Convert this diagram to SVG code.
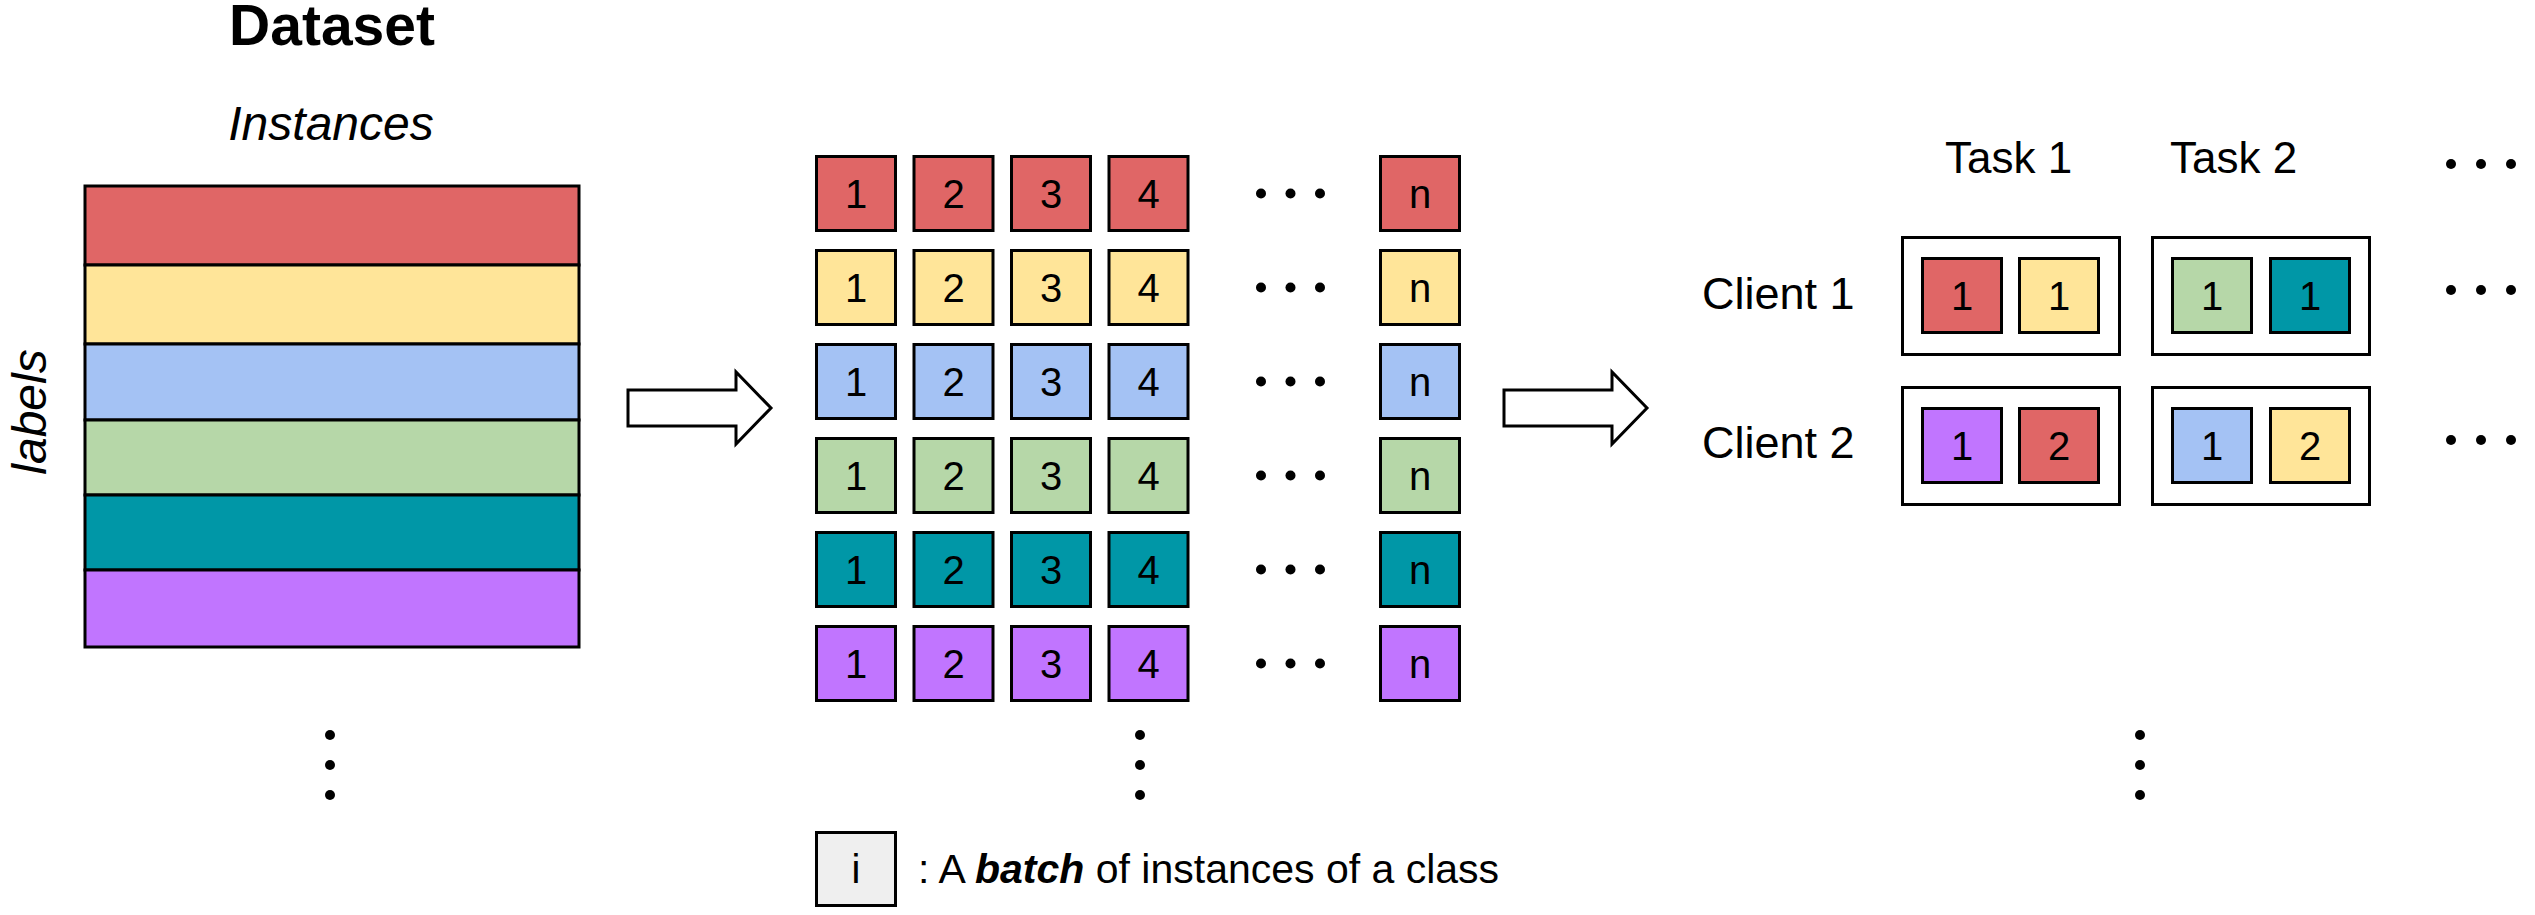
<svg xmlns="http://www.w3.org/2000/svg" width="2535" height="915" viewBox="0 0 2535 915">
<style>
.bx{stroke:#000;stroke-width:3;stroke-linejoin:miter}
.r{fill:#E06666}.y{fill:#FFE599}.b{fill:#A4C2F4}.g{fill:#B6D7A8}.t{fill:#0097A7}.p{fill:#C175FF}.w{fill:#FFFFFF}.l{fill:#EFEFEF}
.txt{font-family:"Liberation Sans",Arial,sans-serif;fill:#000}
.num{font-family:"Liberation Sans",Arial,sans-serif;font-size:40px;text-anchor:middle;fill:#000}
.dot{fill:#000}
.arrow{fill:#FFFFFF;stroke:#000;stroke-width:3;stroke-linejoin:miter}
</style>
<defs>
<path id="arr" d="M0,390 H108 V372 L143,408 L108,444 V426 H0 Z"/>
</defs>
<rect width="2535" height="915" fill="#FFFFFF"/>

<g id="dataset">
<text class="txt" x="332" y="45" font-size="57" font-weight="bold" text-anchor="middle">Dataset</text>
<text class="txt" x="331" y="140" font-size="48" font-style="italic" text-anchor="middle">Instances</text>
<text class="txt" font-size="48" font-style="italic" text-anchor="middle" transform="translate(46,412) rotate(-90)">labels</text>
<rect class="bx r" x="85" y="186" width="494" height="79"/>
<rect class="bx y" x="85" y="265" width="494" height="79"/>
<rect class="bx b" x="85" y="344" width="494" height="76"/>
<rect class="bx g" x="85" y="420" width="494" height="75"/>
<rect class="bx t" x="85" y="495" width="494" height="75"/>
<rect class="bx p" x="85" y="570" width="494" height="77"/>
<circle class="dot" cx="330" cy="735" r="5"/>
<circle class="dot" cx="330" cy="765" r="5"/>
<circle class="dot" cx="330" cy="795" r="5"/>
</g>

<g id="connectors">
<use href="#arr" class="arrow" x="628"/>
<use href="#arr" class="arrow" x="1504"/>
</g>

<g id="grid">
<g id="red-1"><rect class="bx r" x="816.5" y="156.5" width="79" height="74"/><text class="num" x="856" y="208">1</text></g>
<g id="red-2"><rect class="bx r" x="914" y="156.5" width="79" height="74"/><text class="num" x="953.5" y="208">2</text></g>
<g id="red-3"><rect class="bx r" x="1011.5" y="156.5" width="79" height="74"/><text class="num" x="1051" y="208">3</text></g>
<g id="red-4"><rect class="bx r" x="1109" y="156.5" width="79" height="74"/><text class="num" x="1148.5" y="208">4</text></g>
<g id="red-n"><rect class="bx r" x="1380.5" y="156.5" width="79" height="74"/><text class="num" x="1420" y="208">n</text></g>

<g id="yellow-1"><rect class="bx y" x="816.5" y="250.5" width="79" height="74"/><text class="num" x="856" y="302">1</text></g>
<g id="yellow-2"><rect class="bx y" x="914" y="250.5" width="79" height="74"/><text class="num" x="953.5" y="302">2</text></g>
<g id="yellow-3"><rect class="bx y" x="1011.5" y="250.5" width="79" height="74"/><text class="num" x="1051" y="302">3</text></g>
<g id="yellow-4"><rect class="bx y" x="1109" y="250.5" width="79" height="74"/><text class="num" x="1148.5" y="302">4</text></g>
<g id="yellow-n"><rect class="bx y" x="1380.5" y="250.5" width="79" height="74"/><text class="num" x="1420" y="302">n</text></g>

<g id="blue-1"><rect class="bx b" x="816.5" y="344.5" width="79" height="74"/><text class="num" x="856" y="396">1</text></g>
<g id="blue-2"><rect class="bx b" x="914" y="344.5" width="79" height="74"/><text class="num" x="953.5" y="396">2</text></g>
<g id="blue-3"><rect class="bx b" x="1011.5" y="344.5" width="79" height="74"/><text class="num" x="1051" y="396">3</text></g>
<g id="blue-4"><rect class="bx b" x="1109" y="344.5" width="79" height="74"/><text class="num" x="1148.5" y="396">4</text></g>
<g id="blue-n"><rect class="bx b" x="1380.5" y="344.5" width="79" height="74"/><text class="num" x="1420" y="396">n</text></g>

<g id="green-1"><rect class="bx g" x="816.5" y="438.5" width="79" height="74"/><text class="num" x="856" y="490">1</text></g>
<g id="green-2"><rect class="bx g" x="914" y="438.5" width="79" height="74"/><text class="num" x="953.5" y="490">2</text></g>
<g id="green-3"><rect class="bx g" x="1011.5" y="438.5" width="79" height="74"/><text class="num" x="1051" y="490">3</text></g>
<g id="green-4"><rect class="bx g" x="1109" y="438.5" width="79" height="74"/><text class="num" x="1148.5" y="490">4</text></g>
<g id="green-n"><rect class="bx g" x="1380.5" y="438.5" width="79" height="74"/><text class="num" x="1420" y="490">n</text></g>

<g id="teal-1"><rect class="bx t" x="816.5" y="532.5" width="79" height="74"/><text class="num" x="856" y="584">1</text></g>
<g id="teal-2"><rect class="bx t" x="914" y="532.5" width="79" height="74"/><text class="num" x="953.5" y="584">2</text></g>
<g id="teal-3"><rect class="bx t" x="1011.5" y="532.5" width="79" height="74"/><text class="num" x="1051" y="584">3</text></g>
<g id="teal-4"><rect class="bx t" x="1109" y="532.5" width="79" height="74"/><text class="num" x="1148.5" y="584">4</text></g>
<g id="teal-n"><rect class="bx t" x="1380.5" y="532.5" width="79" height="74"/><text class="num" x="1420" y="584">n</text></g>

<g id="purple-1"><rect class="bx p" x="816.5" y="626.5" width="79" height="74"/><text class="num" x="856" y="678">1</text></g>
<g id="purple-2"><rect class="bx p" x="914" y="626.5" width="79" height="74"/><text class="num" x="953.5" y="678">2</text></g>
<g id="purple-3"><rect class="bx p" x="1011.5" y="626.5" width="79" height="74"/><text class="num" x="1051" y="678">3</text></g>
<g id="purple-4"><rect class="bx p" x="1109" y="626.5" width="79" height="74"/><text class="num" x="1148.5" y="678">4</text></g>
<g id="purple-n"><rect class="bx p" x="1380.5" y="626.5" width="79" height="74"/><text class="num" x="1420" y="678">n</text></g>

<g id="grid-dots">
<circle class="dot" cx="1261" cy="193.5" r="5"/><circle class="dot" cx="1290.5" cy="193.5" r="5"/><circle class="dot" cx="1320" cy="193.5" r="5"/>
<circle class="dot" cx="1261" cy="287.5" r="5"/><circle class="dot" cx="1290.5" cy="287.5" r="5"/><circle class="dot" cx="1320" cy="287.5" r="5"/>
<circle class="dot" cx="1261" cy="381.5" r="5"/><circle class="dot" cx="1290.5" cy="381.5" r="5"/><circle class="dot" cx="1320" cy="381.5" r="5"/>
<circle class="dot" cx="1261" cy="475.5" r="5"/><circle class="dot" cx="1290.5" cy="475.5" r="5"/><circle class="dot" cx="1320" cy="475.5" r="5"/>
<circle class="dot" cx="1261" cy="569.5" r="5"/><circle class="dot" cx="1290.5" cy="569.5" r="5"/><circle class="dot" cx="1320" cy="569.5" r="5"/>
<circle class="dot" cx="1261" cy="663.5" r="5"/><circle class="dot" cx="1290.5" cy="663.5" r="5"/><circle class="dot" cx="1320" cy="663.5" r="5"/>
<circle class="dot" cx="1140" cy="735" r="5"/><circle class="dot" cx="1140" cy="765" r="5"/><circle class="dot" cx="1140" cy="795" r="5"/>
</g>
</g>

<g id="legend">
<rect class="bx l" x="816.5" y="832.5" width="79" height="73"/>
<text class="num" x="856" y="883">i</text>
<text class="txt" x="918" y="883" font-size="41">: A <tspan font-weight="bold" font-style="italic">batch</tspan> of instances of a class</text>
</g>

<g id="clients">
<text class="txt" x="1945" y="173" font-size="44">Task 1</text>
<text class="txt" x="2170" y="173" font-size="44">Task 2</text>
<text class="txt" x="1702" y="309" font-size="45">Client 1</text>
<text class="txt" x="1702" y="458" font-size="45">Client 2</text>

<g id="c1-task1">
<rect class="bx w" x="1902.5" y="237.5" width="217" height="117"/>
<rect class="bx r" x="1922.5" y="258.5" width="79" height="74"/><text class="num" x="1962" y="310">1</text>
<rect class="bx y" x="2019.5" y="258.5" width="79" height="74"/><text class="num" x="2059" y="310">1</text>
</g>
<g id="c1-task2">
<rect class="bx w" x="2152.5" y="237.5" width="217" height="117"/>
<rect class="bx g" x="2172.5" y="258.5" width="79" height="74"/><text class="num" x="2212" y="310">1</text>
<rect class="bx t" x="2270.5" y="258.5" width="79" height="74"/><text class="num" x="2310" y="310">1</text>
</g>
<g id="c2-task1">
<rect class="bx w" x="1902.5" y="387.5" width="217" height="117"/>
<rect class="bx p" x="1922.5" y="408.5" width="79" height="74"/><text class="num" x="1962" y="460">1</text>
<rect class="bx r" x="2019.5" y="408.5" width="79" height="74"/><text class="num" x="2059" y="460">2</text>
</g>
<g id="c2-task2">
<rect class="bx w" x="2152.5" y="387.5" width="217" height="117"/>
<rect class="bx b" x="2172.5" y="408.5" width="79" height="74"/><text class="num" x="2212" y="460">1</text>
<rect class="bx y" x="2270.5" y="408.5" width="79" height="74"/><text class="num" x="2310" y="460">2</text>
</g>

<g id="client-dots">
<circle class="dot" cx="2451" cy="164" r="5"/><circle class="dot" cx="2481" cy="164" r="5"/><circle class="dot" cx="2511" cy="164" r="5"/>
<circle class="dot" cx="2451" cy="290" r="5"/><circle class="dot" cx="2481" cy="290" r="5"/><circle class="dot" cx="2511" cy="290" r="5"/>
<circle class="dot" cx="2451" cy="440" r="5"/><circle class="dot" cx="2481" cy="440" r="5"/><circle class="dot" cx="2511" cy="440" r="5"/>
<circle class="dot" cx="2140" cy="735" r="5"/><circle class="dot" cx="2140" cy="765" r="5"/><circle class="dot" cx="2140" cy="795" r="5"/>
</g>
</g>
</svg>
